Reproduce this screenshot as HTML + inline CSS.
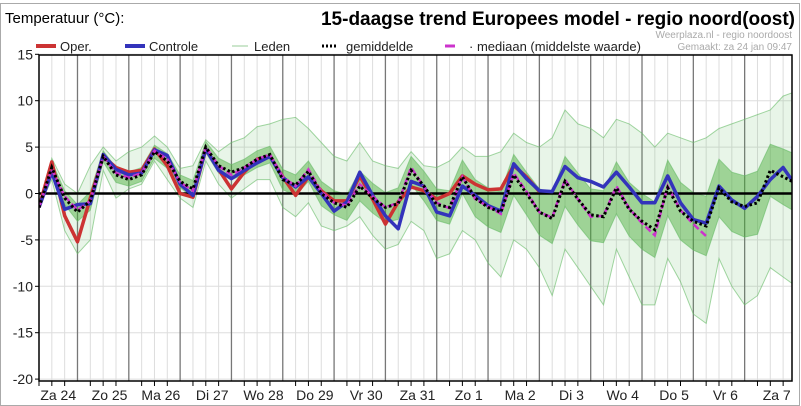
<!DOCTYPE html>
<html><head><meta charset="utf-8">
<style>
html,body{margin:0;padding:0;background:#fff;}
body{width:801px;height:406px;overflow:hidden;position:relative;font-family:"Liberation Sans",sans-serif;}
svg{position:absolute;left:0;top:0;}
</style></head>
<body>
<svg id="chart" width="801" height="406" xmlns="http://www.w3.org/2000/svg">
  <rect x="0.5" y="3.5" width="799" height="402" fill="#fff" stroke="#aaa"/>
  <text x="5" y="23" font-size="15" fill="#000">Temperatuur (°C):</text>
  <text x="795" y="25" font-size="19" font-weight="bold" text-anchor="end" fill="#000">15-daagse trend Europees model - regio noord(oost)</text>
  <text x="792" y="38" font-size="10" text-anchor="end" fill="#aaa">Weerplaza.nl - regio noordoost</text>
  <text x="792" y="50" font-size="10" text-anchor="end" fill="#aaa">Gemaakt: za 24 jan 09:47</text>
  <g font-size="13" fill="#222">
    <g><line x1="36" y1="46" x2="56" y2="46" stroke="#cc3333" stroke-width="4"/><text x="60" y="51">Oper.</text></g>
    <g><line x1="125" y1="46" x2="145" y2="46" stroke="#3333bb" stroke-width="4"/><text x="149" y="51">Controle</text></g>
    <g><line x1="232" y1="46" x2="248" y2="46" stroke="#9c9" stroke-width="1"/><text x="254" y="51">Leden</text></g>
    <g><line x1="322" y1="46" x2="338" y2="46" stroke="#000" stroke-width="3" stroke-dasharray="2,2"/><text x="346" y="51">gemiddelde</text></g>
    <g><line x1="445" y1="46" x2="455" y2="46" stroke="#cc33cc" stroke-width="3"/><text x="469" y="51">· mediaan (middelste waarde)</text></g>
  </g>
  <g id="grid"></g>
  <g id="series"></g>
  <g id="axes"></g>
</svg>
<script>
const yTicks=[15,10,5,0,-5,-10,-15,-20];
const dayLabels=["Za 24","Zo 25","Ma 26","Di 27","Wo 28","Do 29","Vr 30","Za 31","Zo 1","Ma 2","Di 3","Wo 4","Do 5","Vr 6","Za 7"];
const oper=[-1.5,3.4,-2.4,-5.2,-0.5,4.0,2.8,2.3,2.5,4.8,3.0,0.0,-0.4,4.8,2.6,0.5,2.3,3.7,4.0,1.8,-0.2,1.8,0.3,-0.8,-0.8,1.9,-0.6,-3.3,-0.9,0.7,0.3,-0.6,0.0,1.9,1.0,0.4,0.5,3.0,1.8,0.2];
const controle=[-1.5,2.3,-1.7,-1.2,-1.1,4.2,2.6,2.0,2.2,4.7,4.1,1.0,-0.2,4.8,2.5,1.6,2.5,3.3,4.0,1.7,0.7,1.8,0.0,-1.9,-0.9,2.3,-0.2,-2.4,-3.8,1.3,0.8,-2.0,-2.4,0.8,-0.2,-1.3,-1.9,3.2,1.6,0.3,0.2,2.9,1.7,1.3,0.7,2.3,0.7,-1.0,-1.0,1.9,-1.0,-2.8,-3.2,0.8,-0.7,-1.6,-0.3,1.5,2.8,0.8];
const gemiddelde=[-1.5,2.8,-0.5,-2.0,-0.8,4.0,2.0,1.5,2.0,4.5,3.5,1.3,0.5,5.0,3.0,2.3,2.8,3.7,4.2,1.5,0.9,2.4,0.0,-1.0,-1.5,0.8,-0.5,-1.5,-1.1,2.5,0.8,-1.2,-1.5,1.8,-0.5,-1.5,-2.0,2.0,0.0,-2.0,-2.7,1.3,-0.6,-2.3,-2.5,0.6,-1.7,-3.0,-3.9,0.6,-1.9,-3.0,-3.5,0.6,-0.9,-1.4,-1.0,2.5,1.8,1.1];
const mediaan=[-1.5,2.6,-0.3,-1.8,-0.8,4.0,2.2,1.7,2.2,4.6,3.7,1.2,0.3,5.0,3.0,2.0,2.8,3.7,4.2,1.8,0.8,2.6,0.2,-1.0,-1.3,1.0,-0.3,-1.5,-1.0,2.8,0.7,-1.0,-1.6,1.8,-0.6,-1.4,-2.2,2.2,0.2,-2.0,-2.6,1.5,-0.6,-2.5,-2.4,0.8,-1.6,-3.2,-4.5,0.8,-1.8,-3.3,-4.6];
const ledenMax=[-1,3.8,1,0,3.0,5.0,3.5,4.5,5,6.2,5,2.7,3,5.8,4.5,5.5,6,7.2,7.5,8.0,8.2,7,5.5,4,3.5,5.5,3.5,3,2.7,4.5,3,2.8,3.5,5.0,4,4,4.5,6.5,5.5,5.0,6.0,9.0,7.5,7,6,8,7.5,6.5,5,6.5,6.0,5.5,6,7,7.5,8,8.5,9,10.5,11];
const ledenMin=[-1.5,1.5,-4,-6.5,-5,2.5,-0.5,0.5,1,3.5,1.5,-0.5,-1.5,3.5,1.0,-0.5,0.5,1.5,1.5,-1.5,-2.5,-1,-3.5,-4,-3.5,-2.5,-4.5,-6,-5.5,-3,-4,-7,-6.5,-4,-5,-7.5,-9,-5,-6,-8,-11,-6,-8,-10,-12,-6,-9,-12,-12,-7,-9.5,-13,-14,-7,-10,-12,-11,-8,-9,-10];
const ledenQ75=[-1.2,3.4,0.3,-1.2,0.2,4.6,2.8,2.3,2.8,5.2,4.3,2.0,1.4,5.6,3.8,3.1,3.7,4.6,5.1,2.6,2.0,3.5,1.3,0.3,-0.1,2.4,1.1,0.1,0.6,4.0,2.4,0.5,0.3,3.6,1.5,0.6,0.2,4.2,2.3,0.5,0.0,4.0,2.2,0.5,0.3,3.4,1.2,0.0,-0.9,3.6,1.2,0.1,-0.3,3.7,2.3,1.9,2.4,5.3,4.8,4.2];
const ledenQ25=[-1.5,2.2,-1.2,-3.0,-1.8,3.4,1.2,0.8,1.3,3.8,2.7,0.6,-0.4,4.4,2.2,1.5,2.0,2.8,3.3,0.4,-0.2,1.3,-1.3,-2.3,-2.9,-0.8,-2.1,-3.1,-2.8,1.0,-0.8,-2.9,-3.3,0.0,-2.5,-3.6,-4.2,-0.2,-2.3,-4.5,-5.4,-1.4,-3.4,-5.1,-5.3,-2.2,-4.6,-6.0,-6.9,-2.4,-5.0,-6.1,-6.7,-2.5,-4.1,-4.7,-4.4,-0.3,-1.2,-2.0];

const NS="http://www.w3.org/2000/svg";
const L=39,R=792,T=55,B=381,STEP=12.83;
const Y0=193.5,PPU=9.28;
function xs(i){return L+i*STEP;}
function ys(v){return Y0-v*PPU;}
function mk(tag,attrs,parent){const e=document.createElementNS(NS,tag);for(const k in attrs)e.setAttribute(k,attrs[k]);parent.appendChild(e);return e;}
const grid=document.getElementById('grid'),series=document.getElementById('series'),axes=document.getElementById('axes');
const svg=document.getElementById('chart');
const defs=mk('defs',{},svg);
const cp=mk('clipPath',{id:'plotclip'},defs);
mk('rect',{x:L,y:T,width:R-L,height:B-T},cp);
series.setAttribute('clip-path','url(#plotclip)');

yTicks.forEach(v=>{
  const g=mk('line',{x1:L,x2:R,y1:ys(v),y2:ys(v),stroke:'#ddd','stroke-width':1},grid);
  
  
  const t=mk('text',{x:33,y:ys(v)+5,'font-size':14,'text-anchor':'end',fill:'#222'},axes);
  t.textContent=v;
  
  
  const tk=mk('line',{x1:L-4,x2:L,y1:ys(v),y2:ys(v),stroke:'#000'},axes);
  
  
});
for(let i=0;i*STEP+L<=R;i++){
  const x=xs(i);
  const major=(i%4===3);
  const g=mk('line',{x1:x,x2:x,y1:T,y2:B,stroke:major?'#777':'#ddd','stroke-width':major?1.3:1},grid);
  
  
  const tk=mk('line',{x1:x,x2:x,y1:B,y2:B+(major?0:5),stroke:'#000'},axes);
  
  
}
dayLabels.forEach((d,k)=>{
  const t=mk('text',{x:xs(4*k+1.5),y:400,'font-size':14,'text-anchor':'middle',fill:'#222'},axes);
  t.textContent=d;
  
  
});

function pts(arr){return arr.map((v,i)=>xs(i).toFixed(1)+','+ys(v).toFixed(1));}
const outer=mk('polygon',{points:pts(ledenMax).concat(pts(ledenMin).reverse()).join(' '),fill:'#6b6',opacity:0.15},series);


const inner=mk('polygon',{points:pts(ledenQ75).concat(pts(ledenQ25).reverse()).join(' '),fill:'#4a3',opacity:0.45},series);


[ledenMax,ledenMin,ledenQ75,ledenQ25].forEach(a=>{
  const l=mk('polyline',{points:pts(a).join(' '),fill:'none',stroke:'#6b6','stroke-width':1,opacity:0.6},series);
  
  
});
const z=mk('line',{x1:L,x2:R,y1:ys(0),y2:ys(0),stroke:'#000','stroke-width':2.5},series);



const l1=mk('polyline',{points:pts(oper).join(' '),fill:'none',stroke:'#cc3333','stroke-width':3.5,'stroke-linejoin':'round'},series);


const l2=mk('polyline',{points:pts(controle).join(' '),fill:'none',stroke:'#3333bb','stroke-width':3.5,'stroke-linejoin':'round'},series);


const l3=mk('polyline',{points:pts(mediaan).join(' '),fill:'none',stroke:'#cc33cc','stroke-width':2.5,'stroke-dasharray':'7,3'},series);


const l4=mk('polyline',{points:pts(gemiddelde).join(' '),fill:'none',stroke:'#000','stroke-width':3,'stroke-dasharray':'2.5,2.5'},series);



const frame=mk('rect',{x:L,y:T,width:R-L,height:B-T,fill:'none',stroke:'#000','stroke-width':1.5},axes);


</script>
</body></html>
